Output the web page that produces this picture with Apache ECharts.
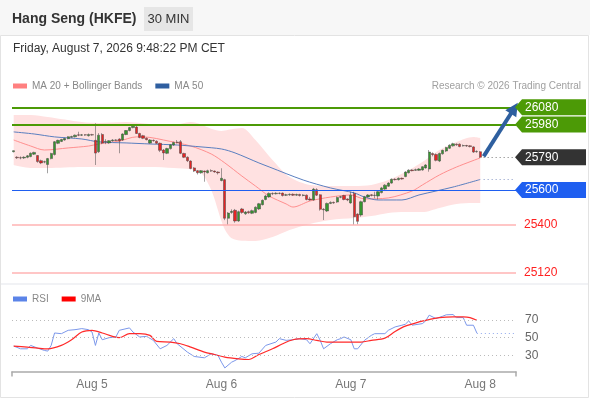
<!DOCTYPE html>
<html><head><meta charset="utf-8">
<script src="https://cdn.jsdelivr.net/npm/echarts@6/dist/echarts.min.js"></script>
<style>html,body{margin:0;padding:0;background:#fff}#c{width:590px;height:400px}</style>
</head><body><div id="c"></div>
<script>
const titleText = 'Hang Seng (HKFE)';
const periodText = '30 MIN';
const dateText = 'Friday, August 7, 2026 9:48:22 PM CET';
const creditText = 'Research \u00a9 2026 Trading Central';
const dayLabels = ['Aug 5', 'Aug 6', 'Aug 7', 'Aug 8'];
const dayLabelIdx = [23, 61, 99, 137];
const slotCount = 148;

// [open, high, low, close]
const ohlc = [
[25822,25830,25818,25828],[25790,25796,25780,25787],[25787,25795,25778,25786],[25786,25796,25780,25790],
[25790,25803,25784,25798],[25794,25818,25790,25813],[25808,25822,25803,25818],[25800,25802,25758,25765],
[25770,25776,25750,25757],[25762,25770,25755,25764],[25748,25786,25697,25782],[25782,25816,25778,25812],
[25806,25884,25800,25880],[25871,25892,25866,25888],[25882,25897,25878,25893],[25890,25903,25886,25899],
[25898,25912,25894,25909],[25906,25915,25903,25910],[25909,25922,25905,25918],[25920,25938,25912,25918],
[25918,25925,25913,25920],[25920,25924,25914,25919],[25915,25928,25910,25922],[25921,25926,25915,25919],
[25888,25987,25745,25814],[25822,25930,25815,25918],[25922,25930,25866,25872],[25878,25895,25866,25882],
[25873,25890,25868,25886],[25886,25895,25880,25890],[25890,25894,25884,25888],[25896,25900,25813,25884],
[25890,25929,25885,25925],[25922,25948,25918,25945],[25945,25966,25940,25962],[25962,25980,25958,25970],
[25965,25978,25925,25928],[25928,25932,25900,25905],[25915,25920,25895,25900],[25900,25905,25888,25892],
[25872,25895,25868,25890],[25888,25893,25880,25886],[25883,25888,25866,25871],[25871,25875,25820,25830],
[25832,25838,25774,25815],[25813,25845,25808,25840],[25840,25866,25835,25862],[25861,25880,25856,25876],
[25878,25890,25870,25875],[25880,25890,25808,25813],[25812,25816,25785,25790],[25790,25795,25762,25770],
[25768,25772,25720,25725],[25728,25733,25704,25710],[25712,25716,25690,25700],[25700,25716,25694,25712],
[25710,25712,25648,25705],[25700,25718,25696,25712],[25712,25720,25705,25710],[25710,25713,25700,25705],
[25704,25708,25690,25700],[25655,25726,25650,25668],[25660,25665,25425,25436],[25436,25472,25397,25466],
[25470,25488,25462,25476],[25482,25490,25410,25420],[25420,25480,25415,25474],[25490,25496,25462,25470],
[25462,25478,25455,25472],[25474,25480,25462,25468],[25465,25486,25460,25480],[25470,25505,25465,25500],
[25490,25525,25484,25520],[25515,25545,25510,25540],[25545,25572,25540,25565],[25560,25586,25555,25580],
[25580,25586,25570,25578],[25578,25587,25574,25581],[25581,25586,25575,25580],[25582,25585,25562,25568],
[25570,25578,25565,25572],[25572,25580,25566,25575],[25575,25580,25565,25570],[25570,25579,25566,25574],
[25574,25578,25562,25568],[25568,25576,25563,25571],[25570,25574,25540,25545],[25548,25560,25538,25542],
[25542,25612,25538,25605],[25602,25610,25565,25570],[25572,25576,25480,25488],[25488,25495,25426,25485],
[25478,25527,25472,25522],[25522,25534,25518,25528],[25528,25533,25520,25525],[25530,25562,25525,25556],
[25558,25566,25552,25561],[25568,25572,25540,25545],[25548,25552,25535,25542],[25525,25590,25520,25570],
[25580,25590,25397,25445],[25460,25465,25400,25418],[25455,25538,25445,25532],[25532,25566,25528,25561],
[25560,25576,25555,25571],[25572,25576,25563,25568],[25568,25590,25552,25570],[25565,25596,25545,25590],
[25585,25618,25580,25612],[25605,25634,25600,25628],[25622,25645,25618,25640],[25640,25667,25636,25662],
[25662,25668,25655,25660],[25660,25673,25655,25668],[25668,25672,25660,25664],[25678,25709,25674,25704],
[25700,25720,25696,25715],[25716,25720,25708,25712],[25714,25724,25710,25718],[25714,25727,25710,25722],
[25716,25738,25712,25735],[25728,25750,25724,25745],[25722,25832,25706,25820],[25812,25818,25795,25805],
[25806,25812,25766,25772],[25768,25817,25762,25812],[25810,25834,25805,25830],[25826,25851,25820,25846],
[25842,25865,25838,25860],[25856,25874,25852,25868],[25866,25870,25856,25862],[25866,25870,25848,25852],
[25856,25864,25852,25858],[25858,25862,25850,25855],[25856,25860,25847,25852],[25850,25854,25815,25820],
[25822,25830,25816,25824],[25822,25826,25786,25790]
];

// [bar index, value]
const ma20 = [[0,25890],[5,25855],[9,25832],[16,25844],[22,25855],[25,25867],[31,25884],[36,25908],[40,25905],[44,25890],[52,25855],[58,25809],[62,25757],[67,25681],[71,25623],[75,25565],[80,25519],[82,25501],[87,25536],[93,25559],[99,25571],[103,25548],[110,25554],[117,25594],[120,25629],[125,25687],[130,25733],[137,25786]];
const ma50 = [[0,25937],[6,25925],[12,25908],[20,25896],[25,25879],[33,25873],[40,25867],[48,25861],[55,25850],[61,25838],[65,25815],[72,25757],[75,25734],[85,25658],[93,25612],[100,25583],[103,25559],[107,25542],[114,25542],[119,25571],[129,25617],[137,25661]];
const bandIdx   = [0,5,10,20,25,33,40,47,52,55,58,61,62,63,64,67,71,76,81,87,93,100,105,110,115,120,125,130,135,137];
const bandUpper = [26035,26035,26023,25994,25989,25994,25983,25977,25994,25980,25955,25942,25945,25950,25953,25960,25890,25774,25675,25629,25623,25623,25629,25658,25704,25762,25832,25879,25908,25902];
const bandLower = [25745,25728,25728,25734,25734,25734,25734,25728,25720,25700,25600,25420,25370,25340,25320,25305,25304,25327,25368,25403,25426,25437,25449,25467,25472,25472,25496,25519,25524,25524];

const rsi = [[0,40.6],[2,37.5],[4,37.5],[5,41.3],[7,38.3],[9,35.7],[10,34.9],[11,41.3],[12,55.3],[14,54.5],[16,58.3],[18,59],[20,60.2],[22,59],[23,56.4],[24,41.3],[25,55.3],[26,47.7],[28,50],[30,50.8],[31,58.3],[34,61],[35,56.4],[37,50.8],[39,51.5],[41,47],[43,37.5],[45,41.3],[47,48.9],[48,43.2],[51,33.8],[53,28.9],[56,27.4],[58,31.9],[60,30],[61,22.5],[62,16],[64,22.5],[65,24.3],[67,28.9],[68,27.4],[70,31.9],[72,32.6],[74,41.3],[77,45.1],[78,48.9],[80,47],[82,47.7],[84,48.9],[86,47.7],[87,43.2],[89,54.5],[90,47],[91,37.5],[93,43.2],[95,47.7],[96,48.9],[97,50.8],[99,47.7],[100,37.5],[101,37.5],[103,47],[105,52.6],[106,54.5],[109,54.5],[110,58.3],[112,62.1],[114,64],[115,65.1],[116,68.9],[117,64],[120,65.8],[121,68.9],[122,75.3],[124,71.5],[126,74.2],[127,75.7],[129,76],[130,72.6],[132,72.6],[133,64],[135,64],[136,55.3]];
const rsiMa = [[0,40.6],[4,39.4],[7,38.3],[10,37.5],[14,41.3],[17,47.7],[20,56.4],[23,58.3],[26,55.3],[29,51.5],[31,50],[34,54.5],[37,54.5],[40,52.6],[42,45.8],[46,45.1],[49,43.2],[52,39.4],[56,33.8],[59,31.1],[62,28.1],[66,26.2],[69,25.5],[72,31.1],[76,37.5],[79,43.2],[82,47.7],[86,48.9],[89,47],[92,45.1],[95,45.1],[99,45.1],[102,45.1],[105,47],[109,49.5],[112,57],[115,63],[119,67.7],[122,70.4],[125,72.6],[129,73.4],[132,73.4],[134,72.6],[136,69.6]];

const tagLevels = [26080, 25980, 25790, 25600];
const tagColors = ['#4c9a06', '#4c9a06', '#333333', '#1f5ff0'];
const supportLevels = [25400, 25120];
const rsiLevels = [70, 50, 30];
const lastClose = 25790;
const ma50Last = 25661;
const rsiLast = 55.3;
const targetLevel = 26074;

const FONT = '"Liberation Sans", Arial, sans-serif';
const categories = Array.from({length: slotCount}, (_, i) => 's' + i);
const candleData = ohlc.map(r => [r[0], r[3], r[2], r[1]]);
const lowerData = bandIdx.map((ix, k) => [ix, bandLower[k]]);
const diffData = bandIdx.map((ix, k) => [ix, bandUpper[k] - bandLower[k]]);
const lastIdx = ohlc.length - 1;
const endIdx = slotCount - 1;

const chart = echarts.init(document.getElementById('c'), null, {renderer: 'canvas'});
const isLabel = (idx) => dayLabelIdx.indexOf(idx) >= 0;

const mainLines = [
  {yAxis: tagLevels[0], lineStyle: {color: '#4c9a06', width: 2, type: 'solid'}},
  {yAxis: tagLevels[1], lineStyle: {color: '#4c9a06', width: 2, type: 'solid'}},
  {yAxis: tagLevels[3], lineStyle: {color: '#1f5ff0', width: 1.2, type: 'solid'}},
  ...supportLevels.map(v => ({yAxis: v, lineStyle: {color: '#ffb3b3', width: 1.5, type: 'solid'},
    label: {show: true, position: 'end', formatter: String(v), color: '#ff2020', fontSize: 12, fontFamily: FONT, distance: 8}})),
  [{coord: [lastIdx + 1, lastClose], lineStyle: {color: '#777', width: 1, type: [1, 3]}}, {coord: [endIdx, lastClose]}],
  [{coord: [lastIdx + 1, ma50Last], lineStyle: {color: '#8797c4', width: 1, type: [1, 3]}}, {coord: [endIdx, ma50Last]}],
  [{coord: [lastIdx + 1, lastClose + 5], symbol: 'none', lineStyle: {color: '#2e5f9f', width: 4, type: 'solid'}},
   {coord: [endIdx - 0.3, targetLevel], symbol: 'triangle', symbolSize: [13, 13]}]
];

const option = {
  animation: false,
  textStyle: {fontFamily: FONT},
  grid: [
    {left: 12, right: 74, top: 95.2, height: 184.4},
    {left: 12, right: 74, top: 302.1, height: 69.4}
  ],
  legend: [
    {left: 8, top: 76, itemWidth: 14, itemHeight: 5, itemGap: 13, icon: 'rect', selectedMode: false,
     textStyle: {color: '#888', fontSize: 10, fontFamily: FONT},
     data: [{name: 'MA 20 + Bollinger Bands', itemStyle: {color: '#ff8080'}}, {name: 'MA 50', itemStyle: {color: '#2f5fa0'}}]},
    {left: 8, top: 289, itemWidth: 14, itemHeight: 5, itemGap: 13, icon: 'rect', selectedMode: false,
     textStyle: {color: '#888', fontSize: 10, fontFamily: FONT},
     data: [{name: 'RSI', itemStyle: {color: '#5b84e8'}}, {name: '9MA', itemStyle: {color: '#ff0000'}}]}
  ],
  xAxis: [
    {type: 'category', gridIndex: 0, data: categories, boundaryGap: true, show: false},
    {type: 'category', gridIndex: 1, data: categories, boundaryGap: true,
     axisLine: {show: true, lineStyle: {color: '#aaa', width: 1.5}},
     axisTick: {show: true, interval: (idx) => idx === 0, length: 5, lineStyle: {color: '#aaa', width: 1.5}},
     axisLabel: {interval: (idx) => isLabel(idx), formatter: (v, idx) => dayLabels[dayLabelIdx.indexOf(idx)] || '',
       color: '#777', fontSize: 12, margin: 7, fontFamily: FONT},
     splitLine: {show: false}}
  ],
  yAxis: [
    {type: 'value', gridIndex: 0, min: 25080, max: 26150, show: false, splitLine: {show: false}},
    {type: 'value', gridIndex: 1, min: 12, max: 90, show: false, splitLine: {show: false}}
  ],
  graphic: [
    {type: 'rect', z: -10, silent: true, shape: {x: 0, y: 0, width: 590, height: 35}, style: {fill: '#f7f7f7'}},
    {type: 'rect', z: -9, silent: true, shape: {x: 0.5, y: 35.5, width: 588, height: 362}, style: {fill: 'none', stroke: '#e3e3e3', lineWidth: 1}},
    {type: 'line', z: -9, silent: true, shape: {x1: 1, y1: 284, x2: 588, y2: 284}, style: {stroke: '#eceef2', lineWidth: 1.5}},
    {type: 'text', silent: true, x: 12, y: 19, style: {text: titleText, font: 'bold 14px ' + FONT, fill: '#333', verticalAlign: 'middle'}},
    {type: 'rect', silent: true, shape: {x: 144, y: 7, width: 49, height: 24}, style: {fill: '#e6e6e6'}},
    {type: 'text', silent: true, x: 168.5, y: 19, style: {text: periodText, font: '13px ' + FONT, fill: '#333', align: 'center', verticalAlign: 'middle'}},
    {type: 'text', silent: true, x: 13, y: 49, style: {text: dateText, font: '12px ' + FONT, fill: '#333', verticalAlign: 'middle'}},
    {type: 'text', silent: true, x: 581, y: 86, style: {text: creditText, font: '10px ' + FONT, fill: '#a0a0a0', align: 'right', verticalAlign: 'middle'}}
  ],
  series: [
    {name: 'bandLower', type: 'line', xAxisIndex: 0, yAxisIndex: 0, stack: 'bb', data: lowerData, symbol: 'none', silent: true, z: 1,
     lineStyle: {opacity: 0}, smooth: 0.3},
    {name: 'bandDiff', type: 'line', xAxisIndex: 0, yAxisIndex: 0, stack: 'bb', data: diffData, symbol: 'none', silent: true, z: 1,
     lineStyle: {opacity: 0}, areaStyle: {color: '#ffe1e1', opacity: 1}, smooth: 0.3},
    {name: 'MA 20 + Bollinger Bands', type: 'line', xAxisIndex: 0, yAxisIndex: 0, data: ma20, symbol: 'none', smooth: 0.3, z: 2,
     lineStyle: {color: '#ff8f8f', width: 1}, itemStyle: {color: '#ff8080'}},
    {name: 'MA 50', type: 'line', xAxisIndex: 0, yAxisIndex: 0, data: ma50, symbol: 'none', smooth: 0.3, z: 2,
     lineStyle: {color: '#5a7fc0', width: 1}, itemStyle: {color: '#2f5fa0'}},
    {name: 'price', type: 'candlestick', xAxisIndex: 0, yAxisIndex: 0, data: candleData, barWidth: 2.8, z: 3,
     itemStyle: {color: '#36962f', color0: '#e62424', borderColor: '#444', borderColor0: '#444', borderWidth: 0.5},
     markLine: {silent: true, symbol: 'none', animation: false, label: {show: false}, data: mainLines}},
    {name: 'tags', type: 'custom', xAxisIndex: 0, yAxisIndex: 0, z: 5, silent: true,
     data: tagLevels.map(v => [0, v]),
     renderItem: (params, api) => {
       const y = api.coord([0, api.value(1)])[1];
       const cs = params.coordSys;
       const x0 = cs.x + cs.width - 1;
       const col = tagColors[params.dataIndex];
       return {type: 'group', children: [
         {type: 'polygon', shape: {points: [[x0, y], [x0 + 7, y - 8], [x0 + 71, y - 8], [x0 + 71, y + 8], [x0 + 7, y + 8]]}, style: {fill: col}},
         {type: 'text', x: x0 + 10, y: y, style: {text: String(api.value(1)), fill: '#fff', font: '12px ' + FONT, verticalAlign: 'middle', align: 'left'}}
       ]};
     }},
    {name: 'RSI', type: 'line', xAxisIndex: 1, yAxisIndex: 1, data: rsi, symbol: 'none', z: 3,
     lineStyle: {color: '#7b97ea', width: 1}, itemStyle: {color: '#5b84e8'},
     markLine: {silent: true, symbol: 'none', animation: false, data: [
       ...rsiLevels.map(v => ({yAxis: v, lineStyle: {color: '#bbb', width: 1, type: [1, 3]},
         label: {show: true, position: 'end', formatter: String(v), color: '#666', fontSize: 12, fontFamily: FONT, distance: 9}})),
       [{coord: [rsi[rsi.length - 1][0], rsiLast], lineStyle: {color: '#8fa8ee', width: 1.2, type: [1, 3]}, label: {show: false}}, {coord: [endIdx, rsiLast]}]
     ]}},
    {name: '9MA', type: 'line', xAxisIndex: 1, yAxisIndex: 1, data: rsiMa, symbol: 'none', smooth: 0.3, z: 4,
     lineStyle: {color: '#ff2a2a', width: 1.2}, itemStyle: {color: '#ff0000'}}
  ]
};
chart.setOption(option);
</script>
</body></html>
